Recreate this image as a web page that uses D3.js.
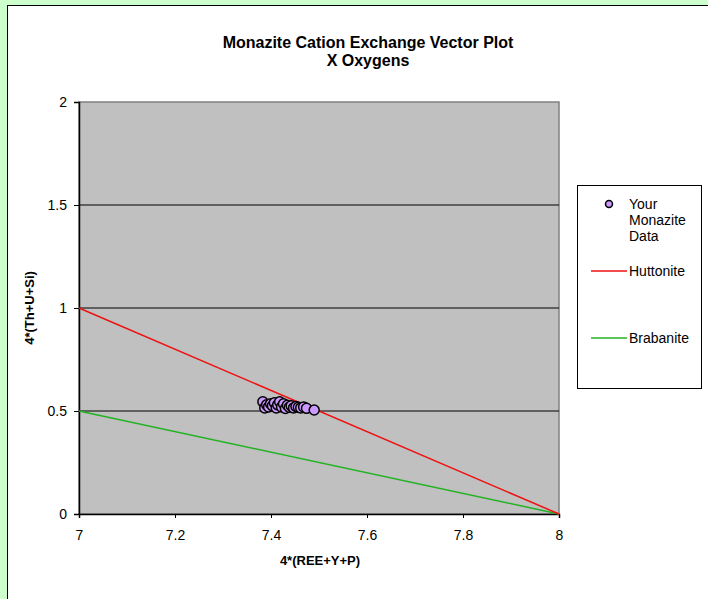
<!DOCTYPE html>
<html lang="en">
<head>
  <meta charset="UTF-8" />
  <title>Monazite Cation Exchange Vector Plot</title>
  <script src="https://d3js.org/d3.v7.min.js"></script>
  <style>
    html, body { margin: 0; padding: 0; background: #ccffcc; }
    svg { display: block; font-family: Arial, "Liberation Sans", sans-serif; }
  </style>
</head>
<body>
  <svg id="chart" width="708" height="599"></svg>
  <script>
    // monazite analyses: 4*(REE+Y+P) and 4*(Th+U+Si)
    const monaziteX = [7.383, 7.387, 7.391, 7.395, 7.399, 7.403, 7.407, 7.411, 7.414, 7.418, 7.422,
                       7.426, 7.430, 7.434, 7.438, 7.442, 7.447, 7.452, 7.457, 7.462, 7.468, 7.474, 7.490];
    const monaziteY = [0.545, 0.515, 0.530, 0.520, 0.535, 0.525, 0.540, 0.515, 0.530, 0.545, 0.520,
                       0.535, 0.512, 0.528, 0.518, 0.525, 0.515, 0.522, 0.518, 0.515, 0.520, 0.513, 0.505];

    // exchange vectors (end points)
    const huttoniteX = [7, 8];
    const huttoniteY = [1, 0];
    const brabaniteX = [7, 8];
    const brabaniteY = [0.5, 0];

    const xTicks = [7, 7.2, 7.4, 7.6, 7.8, 8];
    const yTicks = [0, 0.5, 1, 1.5, 2];

    const svg = d3.select("#chart");

    // white chart area with black frame (runs off right/bottom)
    svg.append("rect")
      .attr("x", 7.5).attr("y", 5.5)
      .attr("width", 720).attr("height", 620)
      .attr("fill", "#fff").attr("stroke", "#000").attr("stroke-width", 1);

    const plot = { left: 79, right: 559, top: 102, bottom: 514 };

    const x = d3.scaleLinear().domain([7, 8]).range([plot.left, plot.right]);
    const y = d3.scaleLinear().domain([0, 2]).range([plot.bottom, plot.top]);

    // plot area
    svg.append("rect")
      .attr("x", plot.left).attr("y", plot.top)
      .attr("width", plot.right - plot.left).attr("height", plot.bottom - plot.top)
      .attr("fill", "#c0c0c0").attr("stroke", "#808080").attr("stroke-width", 1.5);

    // gridlines
    svg.append("g")
      .selectAll("line")
      .data(yTicks.filter(d => d > 0 && d < 2))
      .join("line")
      .attr("x1", plot.left).attr("x2", plot.right)
      .attr("y1", d => y(d)).attr("y2", d => y(d))
      .attr("stroke", "#000").attr("stroke-width", 1);

    // axes
    const xAxis = svg.append("g")
      .attr("transform", `translate(0,${plot.bottom})`)
      .call(d3.axisBottom(x).tickValues(xTicks).tickSize(4).tickPadding(12).tickFormat(d3.format("")));
    const yAxis = svg.append("g")
      .attr("transform", `translate(${plot.left},0)`)
      .call(d3.axisLeft(y).tickValues(yTicks).tickSize(5).tickPadding(7).tickFormat(d3.format("")));

    [xAxis, yAxis].forEach(a => {
      a.select(".domain").attr("stroke", "#000").attr("stroke-width", 1.5);
      a.selectAll(".tick line").attr("stroke", "#000");
      a.selectAll(".tick text").attr("font-size", 14).attr("fill", "#000")
        .attr("font-family", "Arial, 'Liberation Sans', sans-serif");
    });

    // vector lines
    const line = d3.line().x(d => x(d[0])).y(d => y(d[1]));
    svg.append("path")
      .attr("d", line(brabaniteX.map((v, i) => [v, brabaniteY[i]])))
      .attr("fill", "none").attr("stroke", "#22b322").attr("stroke-width", 1.5);
    svg.append("path")
      .attr("d", line(huttoniteX.map((v, i) => [v, huttoniteY[i]])))
      .attr("fill", "none").attr("stroke", "#ee1111").attr("stroke-width", 1.5);

    // data points
    svg.append("g")
      .selectAll("circle")
      .data(monaziteX.map((v, i) => [v, monaziteY[i]]))
      .join("circle")
      .attr("cx", d => x(d[0])).attr("cy", d => y(d[1]))
      .attr("r", 5)
      .attr("fill", "#cc99ff").attr("stroke", "#000").attr("stroke-width", 1.5);

    // titles
    const title = svg.append("text")
      .attr("x", 368).attr("text-anchor", "middle")
      .attr("font-size", 16).attr("font-weight", "bold");
    title.append("tspan").attr("x", 368).attr("y", 48).text("Monazite Cation Exchange Vector Plot");
    title.append("tspan").attr("x", 368).attr("y", 66).text("X Oxygens");

    svg.append("text")
      .attr("x", 320).attr("y", 565).attr("text-anchor", "middle")
      .attr("font-size", 13).attr("font-weight", "bold")
      .text("4*(REE+Y+P)");
    svg.append("text")
      .attr("transform", "translate(34,308) rotate(-90)")
      .attr("text-anchor", "middle")
      .attr("font-size", 13).attr("font-weight", "bold")
      .text("4*(Th+U+Si)");

    // legend
    const legend = svg.append("g");
    legend.append("rect")
      .attr("x", 577.5).attr("y", 185.5).attr("width", 124).attr("height", 203)
      .attr("fill", "#fff").attr("stroke", "#000").attr("stroke-width", 1);
    legend.append("circle")
      .attr("cx", 609).attr("cy", 204).attr("r", 3.5)
      .attr("fill", "#cc99ff").attr("stroke", "#000").attr("stroke-width", 1.5);
    const dataLabel = legend.append("text").attr("font-size", 14);
    ["Your", "Monazite", "Data"].forEach((t, i) =>
      dataLabel.append("tspan").attr("x", 629).attr("y", 209 + i * 16).text(t));
    legend.append("line")
      .attr("x1", 591).attr("x2", 627).attr("y1", 271).attr("y2", 271)
      .attr("stroke", "#ee1111").attr("stroke-width", 1.5);
    legend.append("text").attr("x", 629).attr("y", 276).attr("font-size", 14).text("Huttonite");
    legend.append("line")
      .attr("x1", 591).attr("x2", 627).attr("y1", 338).attr("y2", 338)
      .attr("stroke", "#22b322").attr("stroke-width", 1.5);
    legend.append("text").attr("x", 629).attr("y", 343).attr("font-size", 14).text("Brabanite");
  </script>
</body>
</html>
